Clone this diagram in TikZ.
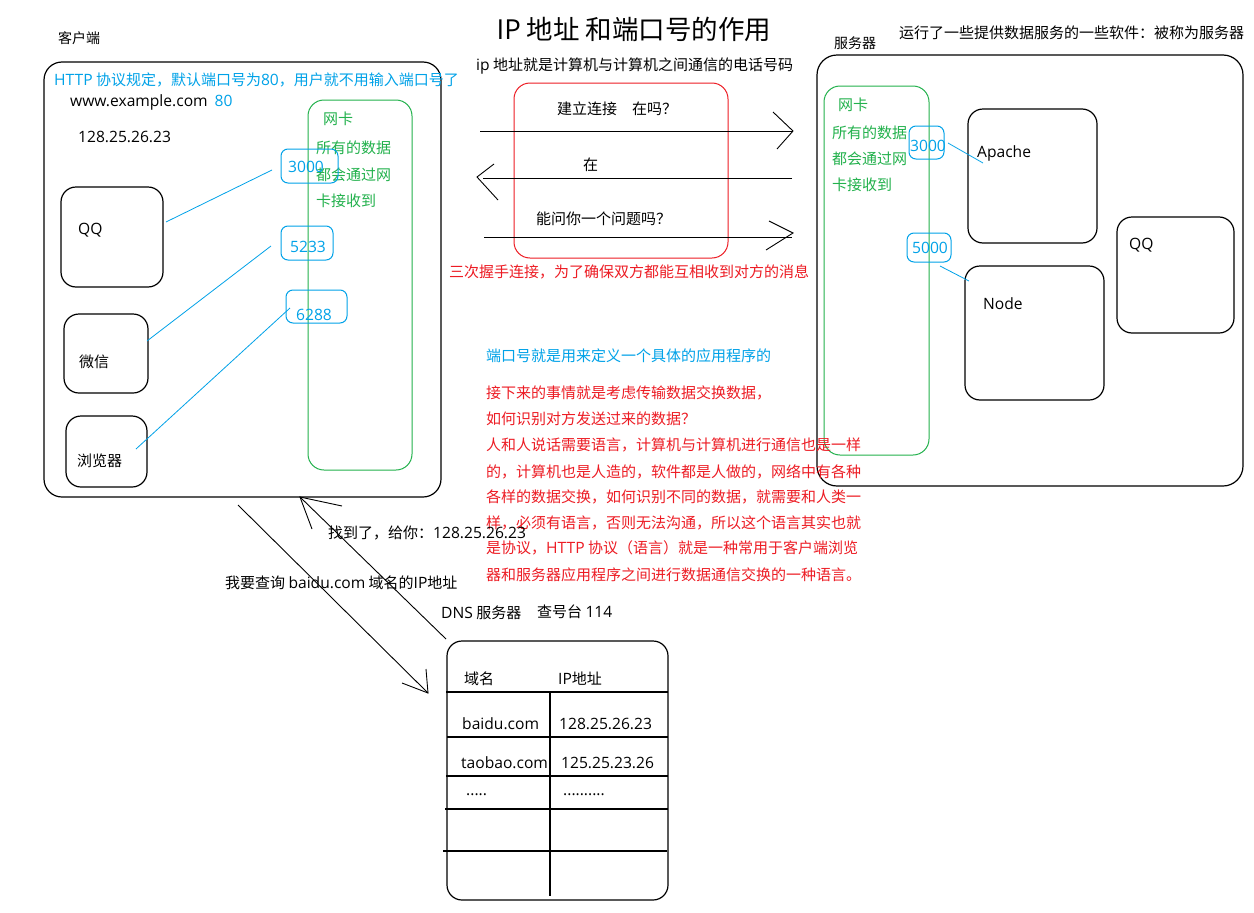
\documentclass[tikz,border=0pt]{standalone}
\usepackage{fontspec}
\setmainfont{Noto Sans CJK SC}
\newfontfamily\latf[Scale=1.04]{Open Sans}
\newcommand\la[1]{{\latf #1}}
\usetikzlibrary{fit}
\definecolor{pblue}{HTML}{00A2E8}
\definecolor{pgreen}{HTML}{22B14C}
\definecolor{pred}{HTML}{ED1C24}
\newcommand\fsz[1]{\fontsize{#1}{#1}\selectfont}
\begin{document}
\begin{tikzpicture}[x=1pt,y=-1pt,
  txt/.style={inner sep=0, anchor=west, font={\fsz{15}}},
  box/.style={draw, line width=1.2pt, rounded corners=15pt, inner sep=0},
  gbox/.style={draw=pgreen, line width=1pt, rounded corners=16pt, inner sep=0},
  rbox/.style={draw=pred, line width=1pt, rounded corners=16pt, inner sep=0},
  pbox/.style={draw=pblue, line width=1pt, rounded corners=7pt, inner sep=0},
  bl/.style={draw=pblue, line width=0.8pt},
  thin/.style={draw=black, line width=0.9pt},
]
\fill[white] (0,0) rectangle (1254,913);
\useasboundingbox (0,0) rectangle (1254,913);

% ---------- title ----------
\node[txt, font={\fsz{26.5}}, anchor=center] (title) at (634,29) {\la{IP} 地址 和端口号的作用};
\node[txt] (ipnote) at (476,66) {\la{ip} 地址就是计算机与计算机之间通信的电话号码};

% ---------- client ----------
\node[txt, font={\fsz{14}}] (clientlbl) at (58,38) {客户端};
\node[box, rounded corners=18pt, fit={(44,62)(441,497)}] (client) {};
\node[txt, text=pblue] (httpnote) at (54,80) {\la{HTTP} 协议规定，默认端口号为\la{80}，用户就不用输入端口号了};
\node[txt] (www) at (70,102) {\la{www.example.com}\hspace{7pt}\textcolor{pblue}{\la{80}}};
\node[txt] (cip) at (78,137) {\la{128.25.26.23}};

\node[gbox, fit={(308,100)(412,470)}] (cnic) {};
\node[txt, text=pgreen] (cnic1) at (323,119) {网卡};
\node[txt, text=pgreen] (cnic2) at (316,148) {所有的数据};
\node[txt, text=pgreen] (cnic3) at (316,175) {都会通过网};
\node[txt, text=pgreen] (cnic4) at (316,201) {卡接收到};

\node[pbox, fit={(281,149)(338,183)}] (p3000) {};
\node[txt, text=pblue] (t3000) at (288,167) {\la{3000}};
\node[pbox, fit={(281,226)(333,260)}] (p5233) {};
\node[txt, text=pblue] (t5233) at (290,247) {\la{5233}};
\node[pbox, fit={(286,290)(347,323)}] (p6288) {};
\node[txt, text=pblue] (t6288) at (296,315) {\la{6288}};

\node[box, fit={(61,187)(163,287)}] (qq) {};
\node[txt] (qqt) at (78,230) {\la{QQ}};
\node[box, fit={(64,314)(148,393)}] (wx) {};
\node[txt] (wxt) at (79,362) {微信};
\node[box, fit={(66,416)(147,487)}] (br) {};
\node[txt] (brt) at (77,461) {浏览器};

\coordinate (qqa) at (166,222);  \coordinate (qqb) at (272,170);
\coordinate (wxa) at (147,341);  \coordinate (wxb) at (271,246);
\coordinate (bra) at (136,449);  \coordinate (brb) at (290,308);
\draw[bl] (qqa) -- (qqb);
\draw[bl] (wxa) -- (wxb);
\draw[bl] (bra) -- (brb);

% ---------- handshake ----------
\node[rbox, fit={(514,83)(728,258)}] (hs) {};
\node[txt] (h1) at (557,109) {建立连接\quad 在吗？};
\node[txt] (h2) at (583,165) {在};
\node[txt] (h3) at (536,219) {能问你一个问题吗？};
\coordinate (a1s) at (480,131); \coordinate (a1e) at (793,131);
\coordinate (a2s) at (792,178); \coordinate (a2e) at (477,177);
\coordinate (a3s) at (484,237); \coordinate (a3e) at (793,233);
\draw[thin] (a1s) -- (a1e);
\draw[thin] (773,112) -- (a1e) -- (777,149);
\draw[thin] (a2s) -- (483,178);
\draw[thin] (494,164) -- (a2e) -- (498,200);
\draw[thin] (a3s) -- (792,237);
\draw[thin] (769,221) -- (a3e) -- (766,250);
\node[txt, text=pred] (hsnote) at (449,272) {三次握手连接，为了确保双方都能互相收到对方的消息};

% ---------- server ----------
\node[txt, font={\fsz{14}}] (serverlbl) at (834,43) {服务器};
\node[txt] (servernote) at (899,33) {运行了一些提供数据服务的一些软件：被称为服务器};
\node[box, rounded corners=20pt, fit={(817,55)(1243,486)}] (server) {};
\node[gbox, fit={(824,86)(929,455)}] (snic) {};
\node[txt, text=pgreen] (snic1) at (838,105) {网卡};
\node[txt, text=pgreen] (snic2) at (832,133) {所有的数据};
\node[txt, text=pgreen] (snic3) at (832,159) {都会通过网};
\node[txt, text=pgreen] (snic4) at (832,185) {卡接收到};

\node[pbox, fit={(909,126)(944,159)}] (sp3000) {};
\node[txt, text=pblue] (st3000) at (910,146) {\la{3000}};
\node[pbox, fit={(907,233)(951,262)}] (sp5000) {};
\node[txt, text=pblue] (st5000) at (912,248) {\la{5000}};

\node[box, fit={(968,109)(1097,243)}] (apache) {};
\node[txt] (apt) at (977,153) {\la{Apache}};
\node[box, fit={(965,266)(1104,400)}] (nodebox) {};
\node[txt] (nodet) at (983,304) {\la{Node}};
\node[box, fit={(1117,217)(1234,333)}] (sqq) {};
\node[txt] (sqqt) at (1129,245) {\la{QQ}};

\coordinate (apa) at (948,143); \coordinate (apb) at (983,163);
\coordinate (nda) at (940,266); \coordinate (ndb) at (969,281);
\draw[bl] (apa) -- (apb);
\draw[bl] (nda) -- (ndb);

% ---------- explanation ----------
\node[txt, text=pblue] (portnote) at (486,356) {端口号就是用来定义一个具体的应用程序的};
\node[txt, text=pred] (r1) at (486,393) {接下来的事情就是考虑传输数据交换数据，};
\node[txt, text=pred] (r2) at (486,419) {如何识别对方发送过来的数据？};
\node[txt, text=pred] (r3) at (486,445) {人和人说话需要语言，计算机与计算机进行通信也是一样};
\node[txt, text=pred] (r4) at (486,472) {的，计算机也是人造的，软件都是人做的，网络中有各种};
\node[txt, text=pred] (r5) at (486,497) {各样的数据交换，如何识别不同的数据，就需要和人类一};
\node[txt, text=pred] (r6) at (486,523) {样，必须有语言，否则无法沟通，所以这个语言其实也就};
\node[txt, text=pred] (r7) at (486,548) {是协议，\la{HTTP} 协议（语言）就是一种常用于客户端浏览};
\node[txt, text=pred] (r8) at (486,575) {器和服务器应用程序之间进行数据通信交换的一种语言。};

% ---------- DNS ----------
\node[txt] (found) at (328,533) {找到了，给你：\la{128.25.26.23}};
\node[txt] (query) at (225,583) {我要查询 \la{baidu.com} 域名的\la{IP}地址};
\node[txt] (dnslbl) at (441,613) {\la{DNS} 服务器};
\node[txt] (dial) at (537,612) {查号台 \la{114}};

\coordinate (qs) at (238,505); \coordinate (qe) at (428,693);
\coordinate (rs) at (446,639); \coordinate (re) at (300,497);
\draw[thin] (qs) -- (qe);
\draw[thin] (402,683) -- (qe) -- (426,669);
\draw[thin] (rs) -- (re);
\draw[thin] (342,506) -- (re) -- (312,529);

\node[box, fit={(447,641)(668,900)}] (dns) {};
\draw[thin, line width=1.1pt] (446,692) -- (668,692);
\draw[thin, line width=1.1pt] (447,737) -- (668,737);
\draw[thin, line width=1.1pt] (446,776) -- (668,776);
\draw[thin, line width=1.1pt] (445,809) -- (668,809);
\draw[thin, line width=1.1pt] (443,851) -- (667,851);
\draw[thin, line width=1.1pt] (550,692) -- (550,896);
\node[txt] (hd1) at (464,679) {域名};
\node[txt] (hd2) at (558,679) {\la{IP}地址};
\node[txt] (c11) at (462,724) {\la{baidu.com}};
\node[txt] (c12) at (559,724) {\la{128.25.26.23}};
\node[txt] (c21) at (461,763) {\la{taobao.com}};
\node[txt] (c22) at (561,763) {\la{125.25.23.26}};
\node[txt] (c31) at (466,795) {\la{.....}};
\node[txt] (c32) at (563,795) {\la{..........}};
\end{tikzpicture}
\end{document}
